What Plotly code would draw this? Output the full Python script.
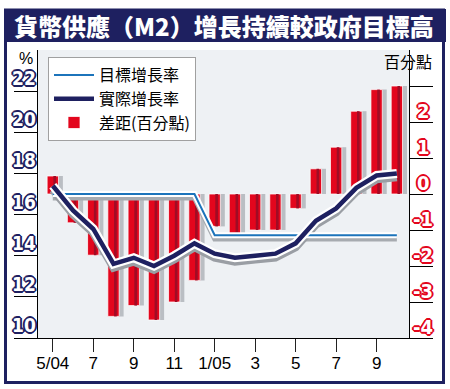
import plotly.graph_objects as go

# ---- data ----
months = ["5/04", "6/04", "7/04", "8/04", "9/04", "10/04", "11/04", "12/04",
          "1/05", "2/05", "3/05", "4/05", "5/05", "6/05", "7/05", "8/05", "9/05", "10/05"]
tick_text = ["5/04", "", "7", "", "9", "", "11", "", "1/05", "", "3", "", "5", "", "7", "", "9", ""]
target = [17, 17, 17, 17, 17, 17, 17, 17, 15, 15, 15, 15, 15, 15, 15, 15, 15, 15]
actual = [17.4, 16.2, 15.3, 13.6, 13.9, 13.5, 14.0, 14.6, 14.1, 13.9, 14.0, 14.1,
          14.6, 15.7, 16.3, 17.3, 17.9, 18.0]
gap = [0.5, -0.8, -1.7, -3.4, -3.1, -3.5, -3.0, -2.4, -0.9, -1.1, -1.0, -1.0,
       -0.4, 0.7, 1.3, 2.3, 2.9, 3.0]
left_ticks = [10, 12, 14, 16, 18, 20, 22]
right_ticks = [-4, -3, -2, -1, 0, 1, 2, 3]
right_labels = [-4, -3, -2, -1, 0, 1, 2]

title = "貨幣供應（M2）增長持續較政府目標高"
name_target = "目標增長率"
name_actual = "實際增長率"
name_gap = "差距(百分點)"

NAVY = "#1e2060"
RED = "#e3061d"
DARKRED = "#a00c25"
BLUE = "#1c74bb"
CJK = "Noto Sans CJK TC"
NARROW = "Liberation Sans Narrow, DejaVu Sans Condensed, Arial Narrow, sans-serif"

W, H = 450, 389
ML, MR, MT, MB = 38, 41, 50, 51
PW, PH = W - ML - MR, H - MT - MB


def px(x):
    return (x - ML) / PW


def py(y):
    return (H - MB - y) / PH


fig = go.Figure()

# bars (right axis) : shadow, red body, dark stripe
fig.add_bar(x=months, y=gap, width=0.5, offset=0.0, marker=dict(color="#babec3", line=dict(width=0)),
            showlegend=False, hoverinfo="skip")
fig.add_bar(x=months, y=gap, width=0.56, offset=-0.28, name=name_gap, legendrank=3,
            marker=dict(color=RED, line=dict(color="rgba(255,255,255,0.75)", width=1)))
fig.add_bar(x=months, y=gap, width=0.13, offset=0.03, marker=dict(color=DARKRED, line=dict(width=0)),
            showlegend=False, hoverinfo="skip")

# line shadows (shifted axis)
fig.add_scatter(x=months, y=target, yaxis="y2", mode="lines", line=dict(color="#a7abb0", width=5),
                showlegend=False, hoverinfo="skip")
fig.add_scatter(x=months, y=actual, yaxis="y2", mode="lines", line=dict(color="#9a9ea4", width=8),
                showlegend=False, hoverinfo="skip")
# lines with white outline
fig.add_scatter(x=months, y=target, yaxis="y3", mode="lines", line=dict(color="white", width=6),
                showlegend=False, hoverinfo="skip")
fig.add_scatter(x=months, y=target, yaxis="y3", mode="lines", name=name_target, legendrank=1,
                line=dict(color=BLUE, width=2))
fig.add_scatter(x=months, y=actual, yaxis="y3", mode="lines", line=dict(color="white", width=9),
                showlegend=False, hoverinfo="skip")
fig.add_scatter(x=months, y=actual, yaxis="y3", mode="lines", name=name_actual, legendrank=2,
                line=dict(color=NAVY, width=4.5))

major_vals = [m for m, t in zip(months, tick_text) if t]
major_text = [t for t in tick_text if t]

fig.update_layout(
    width=W, height=H,
    margin=dict(l=ML, r=MR, t=MT, b=MB),
    paper_bgcolor="white", plot_bgcolor="#eef1f4",
    barmode="overlay",
    hovermode=False,
    xaxis=dict(type="category", categoryorder="array", categoryarray=months,
               range=[-0.73, 17.6], tickvals=major_vals, ticktext=major_text,
               ticks="outside", ticklen=13, tickcolor="#222", tickwidth=1,
               showline=True, linecolor="black", linewidth=1, showgrid=False, zeroline=False,
               tickfont=dict(family="Liberation Sans, Arial, sans-serif", size=17, color="black"),
               ticklabelstandoff=-3, automargin=False),
    xaxis2=dict(overlaying="x", anchor="y", type="linear", range=[-0.73, 17.6],
                tick0=0, dtick=1, ticks="outside", ticklen=7, tickcolor="#222",
                showticklabels=False, showgrid=False, zeroline=False, showline=False),
    yaxis=dict(side="right", range=[-4, 4], tickvals=right_ticks, ticks="outside", ticklen=23,
               tickcolor="black", showticklabels=False, showline=True, linecolor="black",
               showgrid=False, zeroline=False, automargin=False),
    yaxis2=dict(overlaying="y", range=[10.19, 24.19], visible=False),
    yaxis3=dict(overlaying="y", side="left", range=[10, 24], tickvals=left_ticks, ticks="outside",
                ticklen=23, tickcolor="black", showticklabels=False, showline=True,
                linecolor="black", showgrid=False, zeroline=False, automargin=False),
    legend=dict(x=px(48), y=py(57), xanchor="left", yanchor="top", bgcolor="white",
                bordercolor="#a0a0a0", borderwidth=1, traceorder="normal",
                font=dict(family=CJK, size=16, color="black"), itemwidth=40,
                tracegroupgap=0),
    showlegend=True,
)

# frame and title bar
fig.add_shape(type="rect", xref="paper", yref="paper", x0=px(4), x1=px(446), y0=py(42), y1=py(9),
              fillcolor=NAVY, line=dict(width=0), layer="above")
fig.add_shape(type="rect", xref="paper", yref="paper", x0=px(5.5), x1=px(443.5), y0=py(382.5),
              y1=py(10), line=dict(color=NAVY, width=3), layer="above")

fig.add_annotation(text=title, xref="paper", yref="paper", x=px(223.5), y=py(25.5),
                   xanchor="center", yanchor="middle", showarrow=False,
                   font=dict(family=CJK, size=24, color="white", weight=900))

outline_navy = ", ".join(f"{a}px {b}px 0 {NAVY}" for a, b in
                         [(1, 0), (-1, 0), (0, 1), (0, -1), (1, 1), (-1, -1), (1, -1), (-1, 1),
                          (2, 0), (-2, 0), (0, 2), (0, -2)])
outline_red = ", ".join(f"{a}px {b}px 0 {RED}" for a, b in
                        [(1, 0), (-1, 0), (0, 1), (0, -1), (1, 1), (-1, -1), (1, -1), (-1, 1),
                         (2, 0), (-2, 0), (0, 2), (0, -2)])

for v in left_ticks:
    fig.add_annotation(text=str(v), xref="paper", x=px(24), xanchor="center", yref="y3", y=v,
                       yanchor="bottom", yshift=0, showarrow=False,
                       font=dict(family=NARROW, size=19, color="white", weight=700,
                                 shadow=outline_navy))
for v in right_labels:
    fig.add_annotation(text=str(v), xref="paper", x=px(423), xanchor="center", yref="y", y=v,
                       yanchor="bottom", yshift=-3, showarrow=False,
                       font=dict(family=NARROW, size=20, color="white", weight=700,
                                 shadow=outline_red))

fig.add_annotation(text="%", xref="paper", yref="paper", x=px(25.5), y=py(58.5),
                   xanchor="center", yanchor="middle", showarrow=False,
                   font=dict(family="Liberation Sans, Arial, sans-serif", size=16, color="black"))
fig.add_annotation(text="百分點", xref="paper", yref="paper", x=px(407.5), y=py(61),
                   xanchor="center", yanchor="middle", showarrow=False,
                   font=dict(family=CJK, size=16, color="black"))

fig.write_html("out.html", config={"displayModeBar": False, "staticPlot": True},
               post_script="document.body.style.margin='0';document.body.style.padding='0';document.body.style.overflow='hidden';")
